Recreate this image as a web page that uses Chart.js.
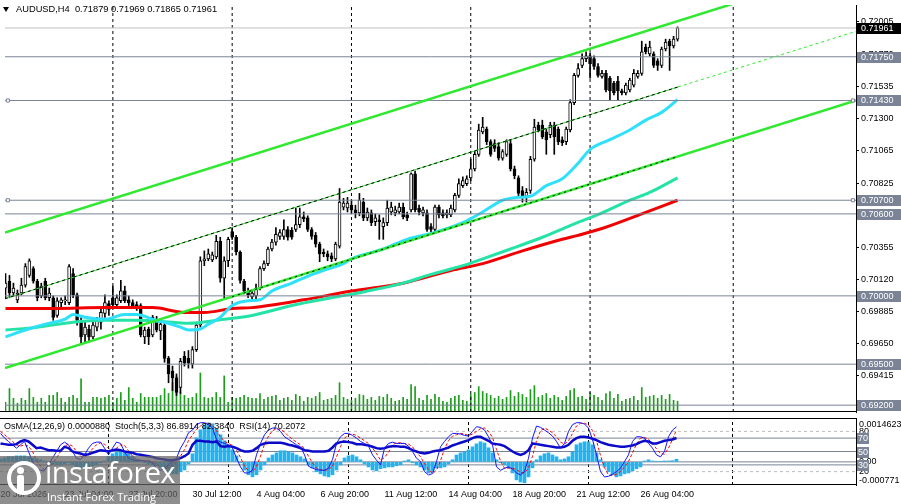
<!DOCTYPE html>
<html><head><meta charset="utf-8"><title>AUDUSD H4</title>
<script src="https://cdn.jsdelivr.net/npm/chart.js@4.4.1/dist/chart.umd.min.js"></script>
<style>
html,body{margin:0;padding:0;background:#fff;overflow:hidden;}
#wrap{position:relative;width:901px;height:504px;overflow:hidden;background:#fff;font-family:"Liberation Sans",Arial,sans-serif;}
canvas{position:absolute;left:0;display:block;}
#c1{top:0;}
#c2{top:418px;}
#hdr{position:absolute;left:16px;top:3px;font-size:9.3px;color:#000;white-space:pre;line-height:12px;}
#tri{position:absolute;left:3px;top:7px;width:0;height:0;border-left:3.5px solid transparent;border-right:3.5px solid transparent;border-top:5px solid #000;}
#wm{position:absolute;left:0;top:456px;width:180px;height:48px;background:rgba(98,98,98,0.72);}
#wm .ring{position:absolute;left:7px;top:5px;width:26px;height:26px;border:4px solid #fff;border-radius:50%;}
#wm .head{position:absolute;left:17px;top:11px;width:7px;height:7px;background:#fff;border-radius:50%;}
#wm .body{position:absolute;left:17px;top:19px;width:7px;height:19px;background:#fff;border-radius:2px;}
#wm .big{position:absolute;left:45px;top:-4px;font-family:"Open Sans",sans-serif;font-size:29px;color:#fff;letter-spacing:-0.6px;}
#wm .small{position:absolute;left:47px;top:33px;font-family:"Open Sans",sans-serif;font-size:11px;color:#fff;}
</style></head>
<body><div id="wrap">
<canvas id="c1" width="901" height="417"></canvas>
<canvas id="c2" width="901" height="86"></canvas>
<div id="tri"></div><div id="hdr"></div>
<div id="wm"><div class="ring"></div><div class="head"></div><div class="body"></div><div class="big">instaforex</div><div class="small">Instant Forex Trading</div></div>
</div>
<script>
// ---------------- DATA ----------------
const symbol = 'AUDUSD', timeframe = 'H4';
const openP = [
0.70057,0.70107,0.70021,0.69971,0.70021,0.70079,0.70150,0.70200,0.70107,0.70000,
0.70107,0.69986,0.69986,0.69857,0.69950,0.69964,0.69950,0.70164,0.70007,0.69821,
0.69714,0.69757,0.69700,0.69771,0.69807,0.69871,0.69943,0.69986,0.69936,0.69964,
0.70036,0.69971,0.69950,0.69936,0.69929,0.69700,0.69757,0.69714,0.69829,0.69743,
0.69786,0.69543,0.69450,0.69400,0.69329,0.69557,0.69543,0.69500,0.69607,0.69786,
0.70257,0.70271,0.70264,0.70286,0.70400,0.70129,0.70257,0.70471,0.70429,0.70321,
0.70107,0.70029,0.69993,0.70000,0.70057,0.70200,0.70236,0.70343,0.70393,0.70436,
0.70436,0.70486,0.70479,0.70486,0.70521,0.70579,0.70571,0.70486,0.70443,0.70379,
0.70321,0.70307,0.70293,0.70271,0.70364,0.70650,0.70643,0.70664,0.70629,0.70607,
0.70686,0.70571,0.70607,0.70543,0.70557,0.70507,0.70536,0.70614,0.70607,0.70614,
0.70650,0.70593,0.70629,0.70893,0.70643,0.70607,0.70607,0.70507,0.70486,0.70650,
0.70607,0.70593,0.70593,0.70629,0.70736,0.70807,0.70821,0.70864,0.70929,0.71036,
0.71200,0.71221,0.71129,0.71114,0.71093,0.71007,0.71036,0.71114,0.70929,0.70864,
0.70771,0.70729,0.70771,0.71000,0.71250,0.71250,0.71200,0.71179,0.71250,0.71221,
0.71143,0.71129,0.71214,0.71414,0.71614,0.71686,0.71736,0.71757,0.71736,0.71679,
0.71607,0.71629,0.71593,0.71557,0.71571,0.71500,0.71486,0.71507,0.71543,0.71607,
0.71629,0.71821,0.71771,0.71771,0.71721,0.71686,0.71807,0.71864,0.71829,0.71879];
const highP = [
0.70164,0.70150,0.70093,0.70043,0.70129,0.70236,0.70271,0.70214,0.70121,0.70093,
0.70129,0.70057,0.70000,0.69986,0.69986,0.70000,0.70229,0.70200,0.70021,0.69843,
0.69807,0.69786,0.69807,0.69843,0.69914,0.70007,0.69964,0.70071,0.70007,0.70114,
0.70071,0.70000,0.69971,0.69957,0.69943,0.69771,0.69771,0.69857,0.69850,0.69807,
0.69807,0.69557,0.69486,0.69429,0.69543,0.69593,0.69600,0.69629,0.69807,0.70286,
0.70329,0.70343,0.70321,0.70443,0.70429,0.70286,0.70429,0.70500,0.70443,0.70329,
0.70121,0.70057,0.70043,0.70086,0.70214,0.70257,0.70357,0.70414,0.70500,0.70486,
0.70557,0.70507,0.70500,0.70643,0.70643,0.70614,0.70586,0.70500,0.70464,0.70393,
0.70343,0.70329,0.70314,0.70393,0.70786,0.70714,0.70721,0.70700,0.70664,0.70750,
0.70714,0.70643,0.70629,0.70600,0.70593,0.70571,0.70700,0.70686,0.70657,0.70679,
0.70679,0.70614,0.70900,0.70914,0.70664,0.70650,0.70629,0.70529,0.70664,0.70664,
0.70629,0.70629,0.70664,0.70750,0.70857,0.70871,0.70879,0.71000,0.71057,0.71257,
0.71307,0.71236,0.71143,0.71143,0.71121,0.71071,0.71143,0.71143,0.70950,0.70879,
0.70800,0.70786,0.71021,0.71293,0.71271,0.71286,0.71221,0.71271,0.71271,0.71236,
0.71164,0.71236,0.71436,0.71629,0.71700,0.71771,0.71786,0.71779,0.71757,0.71700,
0.71650,0.71650,0.71607,0.71571,0.71607,0.71514,0.71557,0.71593,0.71657,0.71650,
0.71864,0.71843,0.71864,0.71786,0.71736,0.71821,0.71879,0.71879,0.71900,0.71969];
const lowP = [
0.69986,0.69986,0.70000,0.69950,0.70007,0.70064,0.70136,0.70093,0.69964,0.69986,
0.69971,0.69964,0.69821,0.69843,0.69914,0.69936,0.69936,0.69986,0.69786,0.69650,
0.69664,0.69664,0.69686,0.69743,0.69757,0.69843,0.69857,0.69914,0.69914,0.69950,
0.69950,0.69929,0.69907,0.69893,0.69700,0.69650,0.69643,0.69700,0.69736,0.69679,
0.69514,0.69364,0.69307,0.69271,0.69286,0.69486,0.69471,0.69471,0.69593,0.69771,
0.70221,0.70257,0.70250,0.70271,0.70100,0.69986,0.70214,0.70414,0.70300,0.70093,
0.70014,0.69986,0.69979,0.69979,0.70043,0.70186,0.70221,0.70329,0.70371,0.70414,
0.70414,0.70407,0.70414,0.70471,0.70500,0.70543,0.70471,0.70414,0.70357,0.70250,
0.70286,0.70257,0.70250,0.70257,0.70350,0.70629,0.70614,0.70600,0.70571,0.70586,
0.70550,0.70550,0.70514,0.70514,0.70414,0.70414,0.70514,0.70593,0.70586,0.70600,
0.70564,0.70550,0.70614,0.70614,0.70593,0.70586,0.70471,0.70464,0.70471,0.70571,
0.70571,0.70571,0.70579,0.70614,0.70721,0.70793,0.70807,0.70843,0.70914,0.71021,
0.71186,0.71107,0.71021,0.71057,0.70993,0.70993,0.71021,0.70914,0.70857,0.70729,
0.70686,0.70686,0.70750,0.70986,0.71200,0.71150,0.71036,0.71157,0.71036,0.71107,
0.71100,0.71107,0.71200,0.71400,0.71600,0.71671,0.71714,0.71593,0.71657,0.71600,
0.71593,0.71493,0.71429,0.71471,0.71429,0.71471,0.71471,0.71493,0.71529,0.71593,
0.71614,0.71771,0.71757,0.71671,0.71650,0.71671,0.71793,0.71650,0.71814,0.71865];
const closeP = [
0.70093,0.70021,0.70057,0.70021,0.70079,0.70214,0.70257,0.70107,0.69986,0.70071,
0.69986,0.70021,0.69843,0.69964,0.69971,0.69971,0.70214,0.70007,0.69821,0.69700,
0.69771,0.69700,0.69786,0.69821,0.69879,0.69950,0.69900,0.69936,0.69986,0.70036,
0.69964,0.69950,0.69929,0.69914,0.69714,0.69750,0.69700,0.69843,0.69750,0.69793,
0.69543,0.69429,0.69400,0.69293,0.69521,0.69507,0.69507,0.69607,0.69786,0.70257,
0.70271,0.70307,0.70300,0.70400,0.70129,0.70257,0.70414,0.70429,0.70321,0.70114,
0.70036,0.70007,0.70021,0.70057,0.70200,0.70236,0.70343,0.70393,0.70450,0.70464,
0.70486,0.70429,0.70429,0.70521,0.70579,0.70564,0.70486,0.70436,0.70379,0.70307,
0.70307,0.70286,0.70271,0.70379,0.70686,0.70679,0.70679,0.70629,0.70607,0.70700,
0.70571,0.70614,0.70536,0.70571,0.70543,0.70536,0.70643,0.70650,0.70629,0.70650,
0.70579,0.70571,0.70893,0.70629,0.70614,0.70629,0.70486,0.70486,0.70650,0.70593,
0.70586,0.70607,0.70643,0.70736,0.70821,0.70843,0.70857,0.70929,0.71036,0.71214,
0.71236,0.71129,0.71036,0.71079,0.71007,0.71057,0.71129,0.70929,0.70879,0.70750,
0.70729,0.70757,0.71000,0.71236,0.71214,0.71164,0.71143,0.71250,0.71164,0.71129,
0.71121,0.71221,0.71414,0.71614,0.71664,0.71736,0.71757,0.71700,0.71679,0.71614,
0.71629,0.71507,0.71500,0.71486,0.71500,0.71486,0.71543,0.71579,0.71629,0.71629,
0.71786,0.71786,0.71821,0.71686,0.71686,0.71807,0.71857,0.71829,0.71879,0.71961];
const tickVolume = [
100,240,140,90,140,120,240,150,100,140,
100,170,170,200,140,100,150,170,140,340,
100,100,150,150,140,150,170,100,140,200,
120,250,140,100,190,150,150,150,150,170,
240,190,300,370,200,170,140,150,190,400,
150,140,150,200,150,370,100,150,140,150,
170,150,140,140,190,130,150,160,170,120,
140,150,120,180,160,110,150,140,160,200,
120,130,140,170,300,150,130,120,140,180,
170,130,150,120,160,150,180,140,110,120,
150,130,280,260,140,120,170,130,180,150,
110,100,140,160,170,120,110,180,200,260,
210,190,170,140,160,130,150,220,160,200,
180,150,230,270,150,170,190,140,170,150,
120,160,220,240,150,160,130,200,170,150,
120,190,210,140,180,110,130,140,160,120,
250,150,160,170,140,170,130,180,120,110];
// moving averages read at selected bars: [bar, price]
const maCyan = [[0,0.69700],[5,0.69750],[10,0.69793],[15,0.69829],[17,0.69864],[20,0.69843],[25,0.69829],[30,0.69864],[33,0.69864],[37,0.69829],[40,0.69807],[44,0.69771],[46,0.69750],[49,0.69757],[51,0.69793],[54,0.69843],[57,0.69929],[61,0.69964],[64,0.69971],[67,0.70036],[72,0.70093],[76,0.70143],[80,0.70186],[85,0.70236],[87,0.70271],[95,0.70343],[101,0.70414],[107,0.70457],[115,0.70536],[120,0.70614],[125,0.70700],[129,0.70721],[132,0.70729],[136,0.70807],[140,0.70857],[144,0.70971],[147,0.71071],[152,0.71143],[157,0.71214],[161,0.71286],[165,0.71343],[169,0.71436]];
const maAqua = [[0,0.69750],[8,0.69771],[17,0.69807],[25,0.69821],[33,0.69821],[42,0.69807],[46,0.69800],[55,0.69829],[62,0.69857],[72,0.69929],[82,0.69986],[90,0.70029],[100,0.70093],[107,0.70157],[115,0.70221],[120,0.70271],[127,0.70343],[135,0.70429],[142,0.70514],[150,0.70607],[157,0.70700],[162,0.70757],[169,0.70864]];
const maRed = [[0,0.69907],[12,0.69907],[25,0.69914],[37,0.69914],[45,0.69879],[50,0.69879],[57,0.69907],[62,0.69914],[75,0.69971],[87,0.70036],[100,0.70093],[112,0.70186],[120,0.70236],[130,0.70329],[140,0.70414],[144,0.70443],[150,0.70493],[160,0.70600],[169,0.70700]];
// trend channel objects: [bar, price]
const channelUpper = [[-0.125,0.70464],[213.875,0.72421]];
const channelMiddle = [[-0.125,0.69979],[169.125,0.71529]];
const channelMiddleExt = [[169.125,0.71529],[213.875,0.71936]];
const channelLower = [[-0.125,0.69471],[213.875,0.71430]];
const channelLowerDots = [[57,0.69994],[169,0.71019]];
const levelPrices = [0.71750,0.71430,0.70700,0.70600,0.70000,0.69500,0.69200];
const levelAnchors = [[0.6,0.71430],[213.1,0.71430],[0.6,0.70700],[213.1,0.70700]];
const bidPrice = 0.71961;
const priceTicks = [0.69175,0.69415,0.69650,0.69885,0.70120,0.70355,0.70590,0.70825,0.71065,0.71300,0.71535,0.71770,0.72005];
const separatorBars = [27,57,87,117,147,183];
const timeTickBars = [0,16,32,48,64,80,96,112,128,144,160];
const timeTickLabels = ['20 Jul 2026','23 Jul 04:00','27 Jul 20:00','30 Jul 12:00','4 Aug 04:00','6 Aug 20:00','11 Aug 12:00','14 Aug 04:00','18 Aug 20:00','21 Aug 12:00','26 Aug 04:00'];
// indicators
const osma = [
0.00010,0.00013,0.00017,0.00017,0.00020,0.00020,0.00020,0.00017,0.00013,0.00010,
0.00007,0.00003,-0.00003,-0.00007,-0.00010,-0.00010,-0.00007,-0.00003,-0.00010,-0.00017,
-0.00020,-0.00020,-0.00017,-0.00013,-0.00010,-0.00003,0.00003,0.00017,0.00027,0.00033,
0.00033,0.00030,0.00027,0.00020,0.00010,0.00003,-0.00003,-0.00007,-0.00010,-0.00013,
-0.00020,-0.00027,-0.00033,-0.00040,-0.00040,-0.00033,-0.00027,-0.00007,0.00027,0.00080,
0.00107,0.00123,0.00130,0.00127,0.00110,0.00090,0.00070,0.00053,0.00040,0.00020,
-0.00003,-0.00027,-0.00043,-0.00050,-0.00043,-0.00027,-0.00010,0.00013,0.00023,0.00030,
0.00037,0.00037,0.00033,0.00030,0.00023,0.00017,0.00010,-0.00010,-0.00020,-0.00033,
-0.00040,-0.00047,-0.00050,-0.00043,-0.00027,-0.00010,0.00013,0.00020,0.00023,0.00017,
0.00007,-0.00007,-0.00017,-0.00027,-0.00030,-0.00023,-0.00020,-0.00017,-0.00017,-0.00013,
-0.00010,0.00003,0.00007,-0.00003,-0.00010,-0.00017,-0.00027,-0.00037,-0.00033,-0.00020,
-0.00020,-0.00017,-0.00007,0.00007,0.00023,0.00030,0.00033,0.00040,0.00050,0.00060,
0.00067,0.00063,0.00047,0.00030,0.00007,-0.00003,-0.00010,-0.00020,-0.00037,-0.00060,
-0.00067,-0.00070,-0.00050,-0.00020,0.00007,0.00020,0.00027,0.00030,0.00023,0.00017,
0.00007,0.00010,0.00017,0.00033,0.00057,0.00063,0.00067,0.00067,0.00057,0.00030,
0.00007,-0.00017,-0.00033,-0.00043,-0.00050,-0.00047,-0.00040,-0.00037,-0.00030,-0.00023,
-0.00017,0.00003,0.00007,0.00003,0.00002,0.00002,0.00003,0.00003,0.00004,0.000088];
const stochMain = [
77,70,65,60,55,60,65,50,35,25,
22,22,30,40,50,60,64,60,50,40,
38,45,55,62,64,64,55,45,55,64,
62,50,40,38,36,37,36,36,33,25,
22,25,30,35,40,55,65,78,82,90,
93,93,90,85,68,64,62,60,55,40,
27,18,18,22,45,62,75,82,85,85,
80,72,68,64,60,57,45,28,25,23,
22,22,25,38,62,72,77,77,74,70,
65,62,58,45,37,30,55,62,64,62,
62,62,58,50,40,35,20,15,17,35,
57,65,72,77,77,76,74,73,80,87,
86,82,72,60,27,22,25,27,24,18,
15,20,40,70,88,86,82,78,73,65,
55,62,80,90,93,93,91,85,68,45,
20,12,13,16,20,25,35,45,65,72,
72,70,62,55,45,42,50,72,82,86.8914];
const stochSignal = [
80,75,70,65,60,58,60,58,50,37,
28,23,25,31,40,50,58,61,58,50,
43,41,46,54,60,63,61,55,52,55,
60,59,51,43,38,37,36,36,35,31,
27,24,26,30,35,43,53,66,75,83,
88,92,92,89,81,72,65,62,59,52,
41,28,21,19,28,43,61,73,81,84,
83,79,73,68,64,60,54,43,33,25,
23,22,23,28,42,57,70,75,76,74,
70,66,62,55,47,37,41,49,60,63,
63,62,61,57,49,42,32,23,17,22,
36,54,66,73,75,77,76,74,76,80,
84,85,80,71,53,36,25,25,25,23,
19,18,25,43,66,81,85,82,78,72,
64,61,66,77,88,92,92,90,81,66,
44,26,15,14,16,20,27,35,48,61,
70,71,68,62,54,47,46,55,68,82.3840];
const rsi = [
62,61,60,60,61,65,67,65,60,55,
56,54,52,52,51,51,57,55,50,48,
47,45,46,48,50,52,51,50,52,53,
52,50,49,48,46,45,44,43,42,40,
39,38,37,37,38,40,43,47,60,66,
66,65,65,64,65,58,57,58,57,55,
52,50,50,51,55,60,62,63,63,63,
63,62,60,59,57,55,52,51,50,50,
50,50,51,56,62,64,65,64,63,61,
61,60,59,57,55,54,55,57,58,58,
57,57,55,52,50,48,47,48,50,51,
52,54,56,59,61,63,65,67,70,72,
72,69,66,62,61,60,58,54,50,47,
45,47,52,62,61,60,59,58,57,56,
56,57,60,66,70,72,72,71,69,67,
64,62,60,59,58,57,57,58,59,61,
64,66,65,62,62,64,66,67,68,70.2072];
const osmaLevels = [0];
const stochLevels = [80,20];
const rsiLevels = [70,50,30];
const osmaRange = [-0.000771, 0.0014623];

// ---------------- SETUP ----------------
const FONT = '"Liberation Sans", Arial, sans-serif';
Chart.defaults.font.family = FONT;
Chart.defaults.font.size = 9;
Chart.defaults.color = '#000';
const X_MIN = -0.125, X_MAX = 213.875;
const PRICE_MIN = 0.69150, PRICE_MAX = 0.72129;
const bars = openP.map((_, i) => i);
const last = bars.length - 1;
document.getElementById('hdr').textContent =
  `${symbol},${timeframe}  ${openP[last].toFixed(5)} ${highP[last].toFixed(5)} ${lowP[last].toFixed(5)} ${closeP[last].toFixed(5)}`;
const indicatorTitle = `OsMA(12,26,9) ${osma[last].toFixed(7)}  Stoch(5,3,3) ${stochMain[last].toFixed(4)} ${stochSignal[last].toFixed(4)}  RSI(14) ${rsi[last].toFixed(4)}`;

const pts = a => a.map(([x, y]) => ({x, y}));
const line = (data, color, width, order, extra) => Object.assign({
  type: 'line', data, borderColor: color, borderWidth: width, pointRadius: 0,
  fill: false, tension: 0, order, yAxisID: 'y'
}, extra || {});

const LEVEL_COL = '#7a8496';

// ---------- price chart ----------
const dsA = [];
dsA.push({type: 'bar', yAxisID: 'yVol', data: tickVolume.map((v, i) => ({x: i, y: v})),
  backgroundColor: '#1b9e1b', barThickness: 1, grouped: false, order: 20});
separatorBars.forEach(b => dsA.push(line([{x: b, y: PRICE_MIN}, {x: b, y: PRICE_MAX}], '#000', 1, 15, {borderDash: [3, 3]})));
dsA.push({type: 'bar', data: bars.map(i => ({x: i, y: [lowP[i], highP[i]]})),
  backgroundColor: '#000', barThickness: 1, grouped: false, order: 12});
dsA.push({type: 'bar', data: bars.map(i => ({x: i, y: [openP[i], closeP[i]]})),
  backgroundColor: bars.map(i => closeP[i] >= openP[i] ? '#ffffff' : '#000000'),
  borderColor: '#000', borderWidth: 1, borderSkipped: false, barThickness: 3, grouped: false, order: 11});
dsA.push(line(pts(maRed), '#f00000', 3, 7, {cubicInterpolationMode: 'monotone'}));
dsA.push(line(pts(maAqua), '#25e3a6', 3, 6, {cubicInterpolationMode: 'monotone'}));
dsA.push(line(pts(maCyan), '#2fe0fa', 3, 5, {cubicInterpolationMode: 'monotone'}));
levelPrices.forEach(p => dsA.push(line([{x: X_MIN, y: p}, {x: X_MAX, y: p}], LEVEL_COL, 1, 3)));
dsA.push(line([{x: X_MIN, y: bidPrice}, {x: X_MAX, y: bidPrice}], '#c0c0c0', 1, 3));
dsA.push(line(pts(channelUpper), '#2fe82f', 2.5, 2));
dsA.push(line(pts(channelLower), '#2fe82f', 2.5, 2));
dsA.push(line(pts(channelMiddle), '#2fd82f', 1, 2));
dsA.push(line(pts(channelMiddle), '#000', 1, 1, {borderDash: [3, 3]}));
dsA.push(line(pts(channelLowerDots), '#000', 1, 1, {borderDash: [2, 4]}));
dsA.push(line(pts(channelMiddleExt), '#2fe82f', 1, 2, {borderDash: [3, 3]}));
dsA.push({type: 'scatter', data: pts(levelAnchors), pointStyle: 'rect', pointRadius: 2.2,
  backgroundColor: '#fff', borderColor: LEVEL_COL, borderWidth: 1, order: 0, yAxisID: 'y'});

const priceLabels = {
  id: 'priceLabels',
  afterDraw(chart) {
    const {ctx, chartArea: ca, scales: {y}} = chart;
    ctx.save();
    ctx.fillStyle = '#000';
    ctx.fillRect(0, ca.bottom - 1, ca.right, 1);
    ctx.font = '9px ' + FONT;
    ctx.textBaseline = 'middle';
    ctx.textAlign = 'left';
    levelPrices.forEach(p => {
      const py = Math.round(y.getPixelForValue(p));
      ctx.fillStyle = LEVEL_COL;
      ctx.fillRect(857, py - 5, 44, 11);
      ctx.fillStyle = '#fff';
      ctx.fillText(p.toFixed(5), 861, py + 0.5);
    });
    const by = Math.round(y.getPixelForValue(bidPrice));
    ctx.fillStyle = '#000';
    ctx.fillRect(857, by - 5, 44, 11);
    ctx.fillStyle = '#fff';
    ctx.fillText(bidPrice.toFixed(5), 861, by + 0.5);
    ctx.restore();
  }
};

new Chart(document.getElementById('c1'), {
  type: 'bar',
  data: {datasets: dsA},
  options: {
    responsive: false, animation: false, events: [],
    layout: {padding: 0},
    plugins: {legend: {display: false}, tooltip: {enabled: false}},
    scales: {
      x: {type: 'linear', min: X_MIN, max: X_MAX, display: false, offset: false},
      y: {type: 'linear', position: 'right', min: PRICE_MIN, max: PRICE_MAX,
        afterBuildTicks: s => { s.ticks = priceTicks.map(v => ({value: v})); },
        afterFit: s => { s.width = 45; s.paddingTop = 0; s.paddingBottom = 0; },
        ticks: {callback: v => Number(v).toFixed(5), autoSkip: false, padding: 2, color: '#000', font: {size: 9}},
        grid: {drawOnChartArea: false, drawTicks: true, tickLength: 3, color: '#000'},
        border: {display: true, color: '#000', width: 1}},
      yVol: {type: 'linear', display: false, min: 0, max: 4170}
    }
  },
  plugins: [priceLabels]
});

// ---------- indicator chart ----------
const dsB = [];
separatorBars.forEach(b => dsB.push(line([{x: b, y: 0}, {x: b, y: 100}], '#000', 1, 25, {borderDash: [3, 3], yAxisID: 'yOsc'})));
stochLevels.forEach(v => dsB.push(line([{x: X_MIN, y: v}, {x: X_MAX, y: v}], '#bdbdbd', 1, 20, {borderDash: [3, 3], yAxisID: 'yOsc'})));
rsiLevels.forEach(v => dsB.push(line([{x: X_MIN, y: v}, {x: X_MAX, y: v}], LEVEL_COL, 1, 20, {yAxisID: 'yOsc'})));
osmaLevels.forEach(v => dsB.push(line([{x: X_MIN, y: v}, {x: X_MAX, y: v}], LEVEL_COL, 1, 20, {yAxisID: 'yOsma'})));
dsB.push({type: 'bar', yAxisID: 'yOsma', data: osma.map((v, i) => ({x: i, y: v})),
  backgroundColor: '#22b4f0', barThickness: 3, grouped: false, order: 10});
dsB.push(line(stochSignal.map((v, i) => ({x: i, y: v})), '#ff0000', 1, 4, {borderDash: [3, 2], yAxisID: 'yOsc'}));
dsB.push(line(rsi.map((v, i) => ({x: i, y: v})), '#0a0ac8', 2.5, 3, {yAxisID: 'yOsc'}));
dsB.push(line(stochMain.map((v, i) => ({x: i, y: v})), '#1414ff', 1, 2, {yAxisID: 'yOsc'}));

const indLabels = {
  id: 'indLabels',
  afterDraw(chart) {
    const {ctx, chartArea: ca, scales: {yOsma, yOsc}} = chart;
    ctx.save();
    ctx.fillStyle = '#000';
    ctx.fillRect(0, 0, ca.right, 1);
    ctx.fillRect(0, ca.bottom - 1, ca.right, 1);
    ctx.font = '9px ' + FONT;
    ctx.textAlign = 'left';
    ctx.textBaseline = 'middle';
    ctx.fillText(indicatorTitle, 4, 9);
    stochLevels.forEach(v => ctx.fillText(String(v), 859, yOsc.getPixelForValue(v)));
    ctx.fillText('0.00', 859, yOsma.getPixelForValue(0));
    ctx.textBaseline = 'top';
    ctx.fillText(osmaRange[1].toFixed(7), 859, 2);
    ctx.textBaseline = 'bottom';
    ctx.fillText(osmaRange[0].toFixed(6), 859, ca.bottom);
    ctx.textBaseline = 'middle';
    rsiLevels.forEach(v => {
      const py = Math.round(yOsc.getPixelForValue(v));
      ctx.fillStyle = LEVEL_COL;
      ctx.fillRect(857, py - 5, 12, 11);
      ctx.fillStyle = '#fff';
      ctx.fillText(String(v), 858, py + 0.5);
    });
    ctx.restore();
  }
};

new Chart(document.getElementById('c2'), {
  type: 'bar',
  data: {datasets: dsB},
  options: {
    responsive: false, animation: false, events: [],
    layout: {padding: 0},
    plugins: {legend: {display: false}, tooltip: {enabled: false}},
    scales: {
      x: {type: 'linear', min: X_MIN, max: X_MAX, offset: false, position: 'bottom',
        afterBuildTicks: s => { s.ticks = timeTickBars.map(v => ({value: v})); },
        afterFit: s => { s.height = 19; s.paddingLeft = 0; s.paddingRight = 0; },
        ticks: {callback: (v, idx) => timeTickLabels[idx], align: 'start', autoSkip: false, maxRotation: 0, minRotation: 0, padding: 4, color: '#000', font: {size: 9}},
        grid: {display: false, drawTicks: false}, border: {display: false}},
      yOsma: {type: 'linear', position: 'right', min: osmaRange[0], max: osmaRange[1],
        afterFit: s => { s.width = 45; s.paddingTop = 0; s.paddingBottom = 0; },
        ticks: {display: false}, grid: {drawOnChartArea: false, drawTicks: false},
        border: {display: true, color: '#000', width: 1}},
      yOsc: {type: 'linear', position: 'right', display: false, min: 0, max: 100}
    }
  },
  plugins: [indLabels]
});
</script>
</body></html>
